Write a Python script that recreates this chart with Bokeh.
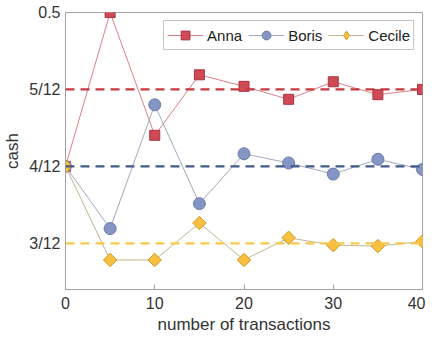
import math
from bokeh.plotting import figure
from bokeh.models import FixedTicker, Span, Range1d, Legend
from bokeh.embed import file_html
from bokeh.resources import INLINE

steps = [0, 5, 10, 15, 20, 25, 30, 35, 40]
anna = [1/3, 0.5, 0.367, 0.4325, 0.42, 0.406, 0.425, 0.411, 0.4167]
boris = [1/3, 0.266, 0.40, 0.293, 0.347, 0.337, 0.325, 0.341, 0.330]
cecile = [1/3, 0.232, 0.232, 0.272, 0.232, 0.256, 0.248, 0.247, 0.252]
means = [5/12, 4/12, 3/12]
y_ticks = [3/12, 4/12, 5/12, 0.5]
y_labels = ["3/12", "4/12", "5/12", "0.5"]
x_ticks = [0, 10, 20, 30, 40]

FONT = "Liberation Sans"
p = figure(width=425, height=336, output_backend="svg", toolbar_location=None,
           x_range=Range1d(0, 40), y_range=Range1d(0.2, 0.5),
           min_border_left=62, min_border_right=3, min_border_top=12, min_border_bottom=46)
p.grid.visible = False
p.outline_line_color = "#a0a0a0"
p.background_fill_color = "white"

for ax in (p.xaxis[0], p.yaxis[0]):
    ax.axis_line_color = "#a0a0a0"
    ax.major_tick_line_color = "#a0a0a0"
    ax.minor_tick_line_color = None
    ax.major_label_text_font = FONT
    ax.major_label_text_font_size = "16px"
    ax.major_label_text_color = "#333333"
    ax.axis_label_text_font = FONT
    ax.axis_label_text_font_size = "17px"
    ax.axis_label_text_font_style = "normal"
    ax.axis_label_text_color = "#333333"

p.xaxis.ticker = FixedTicker(ticks=x_ticks)
p.xaxis.major_tick_in = 5
p.xaxis.major_tick_out = 0
p.xaxis.major_label_standoff = 7
p.xaxis.axis_label = "number of transactions"
p.xaxis.axis_label_standoff = 3

p.yaxis.ticker = FixedTicker(ticks=y_ticks)
p.yaxis.major_label_overrides = {t: l for t, l in zip(y_ticks, y_labels)}
p.yaxis.major_tick_in = 0
p.yaxis.major_tick_out = 0
p.yaxis.major_label_standoff = 5
p.yaxis.axis_label = "cash"
p.yaxis.axis_label_standoff = 4

for m, c in zip(means, ["#c43a40", "#44598a", "#f6c84c"]):
    p.add_layout(Span(location=m, dimension="width", line_color=c,
                      line_width=2.3, line_dash="9 6"))

items = []
specs = [("Anna", anna, "square", 0, "#dc8086", "#cf4a54", "#a83440", 10),
         ("Boris", boris, "circle", 0, "#a2a9bd", "#8596c4", "#6b7cab", 12),
         ("Cecile", cecile, "square", math.pi / 4, "#c2b48e", "#f7c040", "#d09a22", 9.5)]
for name, ys, mk, ang, lc, fc, ec, sz in specs:
    r1 = p.line(steps, ys, line_color=lc, line_width=1)
    key = None
    if ang:
        # diamond drawn underneath (hidden by the rotated square), used as legend icon
        key = p.scatter(steps, ys, marker="diamond", size=12, fill_color=fc,
                        line_color=ec, line_width=1)
    r2 = p.scatter(steps, ys, marker=mk, size=sz, angle=ang, fill_color=fc,
                   line_color=ec, line_width=1)
    items.append((name, [r1, key if key is not None else r2]))

legend = Legend(items=items, orientation="horizontal", location="top_right",
                label_text_font=FONT, label_text_font_size="15px",
                label_text_color="#222222", glyph_width=36, glyph_height=22,
                spacing=6, padding=3, margin=8, label_standoff=4,
                border_line_color="#8a8a8a", background_fill_alpha=1)
p.add_layout(legend)

open("out.html", "w").write(file_html(p, INLINE))
